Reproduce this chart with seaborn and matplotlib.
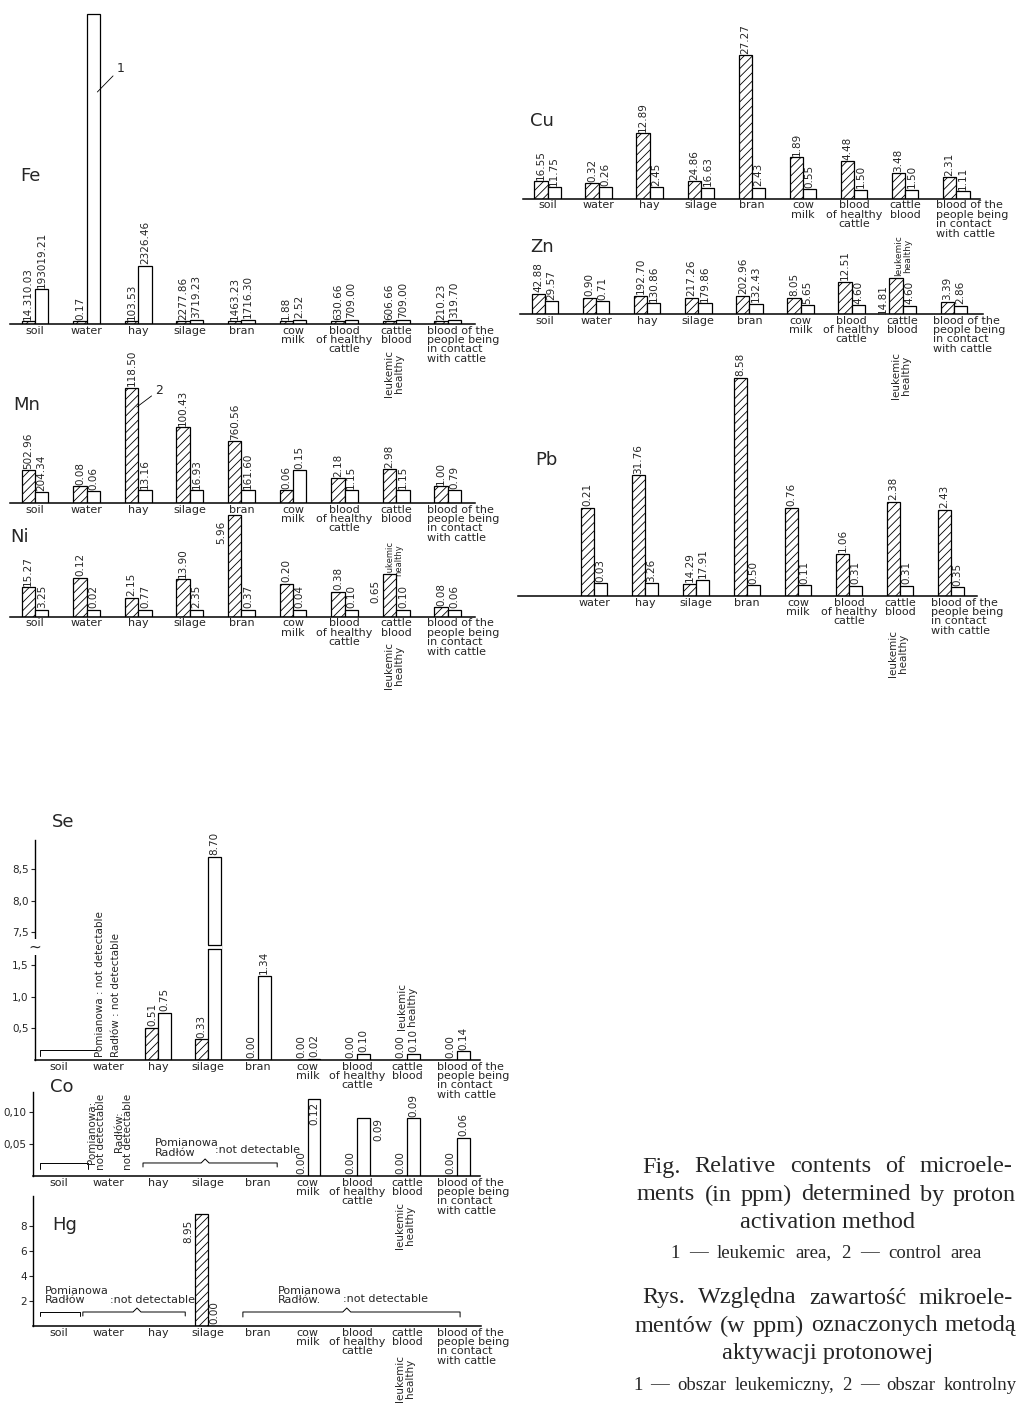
import matplotlib
matplotlib.use("Agg")
import matplotlib.pyplot as plt
from matplotlib.patches import Rectangle
import numpy as np
import pandas as pd
import seaborn as sns

W, H = 1018, 1412
nan = np.nan

categories = ["soil", "water", "hay", "silage", "bran", "cow milk",
              "blood of healthy cattle", "cattle blood", "blood of the people"]
cat_labels = ["soil", "water", "hay", "silage", "bran", "cow\nmilk",
              "blood\nof healthy\ncattle", "cattle\nblood",
              "blood of the\npeople being\nin contact\nwith cattle"]

# Fe, Mn, Ni, Cu, Zn, Pb are not drawn to scale in the original:
# heights below are the drawn heights (px on the sheet), texts are the printed values
fe_leuk = [3, 3, 3, 3, 3, 3, 3, 3, 3]
fe_heal = [35, 310, 58, 4.5, 4.5, 4.5, 4.5, 4.5, 4.5]
fe_leuk_txt = ["14.310.03", "0.17", "103.53", "2277.86", "1463.23", "1.88", "630.66", "606.66", "210.23"]
fe_heal_txt = ["193019.21", "", "2326.46", "3719.23", "1716.30", "2.52", "709.00", "709.00", "319.70"]

mn_leuk = [33, 17, 115, 76, 62, 13, 25, 34, 17]
mn_heal = [11, 12, 13, 13, 13, 33, 13, 13, 13]
mn_leuk_txt = ["502.96", "0.08", "118.50", "100.43", "760.56", "0.06", "2.18", "2.98", "1.00"]
mn_heal_txt = ["204.34", "0.06", "13.16", "16.93", "161.60", "0.15", "1.15", "1.15", "0.79"]

ni_leuk = [30, 39, 19, 38, 102, 33, 25, 43, 10]
ni_heal = [7, 7, 7, 7, 7, 7, 7, 7, 7]
ni_leuk_txt = ["15.27", "0.12", "2.15", "13.90", "5.96", "0.20", "0.38", "0.65", "0.08"]
ni_heal_txt = ["3.25", "0.02", "0.77", "2.35", "0.37", "0.04", "0.10", "0.10", "0.06"]

cu_leuk = [18, 16, 66, 18, 144, 42, 38, 26, 22]
cu_heal = [12, 12, 12, 11, 11, 10, 9, 9, 8]
cu_leuk_txt = ["16.55", "0.32", "12.89", "24.86", "27.27", "1.89", "4.48", "3.48", "2.31"]
cu_heal_txt = ["11.75", "0.26", "2.45", "16.63", "2.43", "0.55", "1.50", "1.50", "1.11"]

zn_leuk = [20, 16, 18, 16, 18, 16, 32, 36, 12]
zn_heal = [13, 13, 11, 11, 10, 9, 9, 8, 8]
zn_leuk_txt = ["42.88", "0.90", "192.70", "217.26", "202.96", "8.05", "12.51", "14.81", "3.39"]
zn_heal_txt = ["29.57", "0.71", "130.86", "179.86", "132.43", "5.65", "4.60", "4.60", "2.86"]

pb_leuk = [nan, 88, 121, 12, 218, 88, 42, 94, 86]
pb_heal = [nan, 13, 13, 16, 11, 11, 10, 10, 9]
pb_leuk_txt = ["", "0.21", "31.76", "14.29", "8.58", "0.76", "1.06", "2.38", "2.43"]
pb_heal_txt = ["", "0.03", "3.26", "17.91", "0.50", "0.11", "0.31", "0.31", "0.35"]

# Se, Co, Hg are drawn to scale (ppm)
se_leuk = [nan, nan, 0.51, 0.33, 0.00, 0.00, 0.00, 0.00, 0.00]
se_heal = [nan, nan, 0.75, 8.70, 1.34, 0.02, 0.10, 0.10, 0.14]
co_leuk = [nan, nan, nan, nan, nan, 0.00, 0.00, 0.00, 0.00]
co_heal = [nan, nan, nan, nan, nan, 0.12, 0.09, 0.09, 0.06]
hg_leuk = [nan, nan, nan, 8.95, nan, nan, nan, nan, nan]
hg_heal = [nan, nan, nan, 0.00, nan, nan, nan, nan, nan]

se_ticks = [0.5, 1.0, 1.5, 7.5, 8.0, 8.5]
co_ticks = [0.05, 0.10]
hg_ticks = [2, 4, 6, 8]

sns.set_style("white")
plt.rcParams["font.family"] = ["DejaVu Sans"]
plt.rcParams["hatch.linewidth"] = 0.6
plt.rcParams["hatch.color"] = "black"

FS = 7.5     # value labels
CFS = 8      # category labels
PT = 0.72    # points per pixel at 100 dpi
HATCH = "////"

fig = plt.figure(figsize=(W / 100, H / 100), dpi=100)
fig.patch.set_facecolor("white")


def fmt(vals):
    return ["" if np.isnan(v) else f"{v:.2f}" for v in vals]


def panel(left, right, base, top, c0, sp, leuk, heal, leuk_txt, heal_txt,
          special=None, yaxis=False):
    ax = fig.add_axes([left / W, 1 - base / H, (right - left) / W, (base - top) / H])
    rows = []
    for i, c in enumerate(categories):
        for area, vals in (("leukemic", leuk), ("healthy", heal)):
            if not np.isnan(vals[i]):
                rows.append({"cat": c, "area": area, "value": vals[i]})
    df = pd.DataFrame(rows)
    sns.barplot(data=df, x="cat", y="value", hue="area", order=categories,
                hue_order=["leukemic", "healthy"], palette=["white", "white"],
                saturation=1, edgecolor="black", linewidth=0.9, width=0.52,
                errorbar=None, legend=False, ax=ax)
    ax.set_facecolor("none")
    ax.set_xlim((left - c0) / sp, (right - c0) / sp)
    ax.set_xticks([])
    ax.set_xlabel("")
    ax.set_ylabel("")
    for s in ("top", "right"):
        ax.spines[s].set_visible(False)
    ax.spines["bottom"].set_linewidth(1.1)
    ax.spines["bottom"].set_color("black")
    if yaxis:
        ax.spines["left"].set_linewidth(1.0)
        ax.spines["left"].set_color("black")
        ax.tick_params(axis="y", direction="out", length=3, width=0.8,
                       labelsize=FS, pad=1.5, left=True)
    else:
        ax.spines["left"].set_visible(False)
        ax.set_yticks([])
    special = special or {}
    for cont, area, txts in zip(ax.containers, ("leukemic", "healthy"), (leuk_txt, heal_txt)):
        for p in cont:
            i = int(round(p.get_x() + p.get_width() / 2))
            if area == "leukemic":
                p.set_hatch(HATCH)
            s = txts[i]
            if not s:
                continue
            x, w, h = p.get_x(), p.get_width(), p.get_height()
            mode = special.get((area, i), "top")
            kw = dict(textcoords="offset points", rotation=90, fontsize=FS,
                      annotation_clip=False)
            if mode == "top":
                ax.annotate(s, (x + w / 2, h), xytext=(0, 1.5 * PT), ha="center", va="bottom", **kw)
            elif mode == "left":
                ax.annotate(s, (x, h), xytext=(-2 * PT, -6 * PT), ha="right", va="top", **kw)
            elif mode == "inside":
                ax.annotate(s, (x + w / 2, h), xytext=(0, -3 * PT), ha="center", va="top", **kw)
            elif mode == "right":
                ax.annotate(s, (x + w, h), xytext=(3 * PT, 0), ha="left", va="top", **kw)
    return ax


def cat_axis(ax, show, legend_px=None, legend_fs=FS):
    for i in show:
        if i == 8:
            ax.annotate(cat_labels[i], (i - 0.4, 0), xytext=(0, -1.5 * PT), textcoords="offset points",
                        ha="left", va="top", fontsize=CFS, linespacing=0.92, annotation_clip=False)
        else:
            ax.annotate(cat_labels[i], (i, 0), xytext=(0, -1.5 * PT), textcoords="offset points",
                        ha="center", va="top", fontsize=CFS, linespacing=0.92, annotation_clip=False)
    if legend_px is not None:
        ax.annotate("leukemic\nhealthy", (7, 0), xytext=(-2 * PT, -legend_px * PT),
                    textcoords="offset points", rotation=90, ha="center", va="top",
                    fontsize=legend_fs, linespacing=0.95, annotation_clip=False)


def title(x, y, s):
    fig.text(x / W, 1 - y / H, s, fontsize=13, ha="left", va="center")


def brace(ax, x0, x1, y, ppu, peak=None, ends=(True, True), tick=6, bump=5):
    xs, ys = [], []
    if ends[0]:
        xs.append(x0); ys.append(y - tick / ppu)
    xs.append(x0); ys.append(y)
    if peak is not None:
        xs += [peak - 0.08, peak, peak + 0.08]
        ys += [y, y + bump / ppu, y]
    xs.append(x1); ys.append(y)
    if ends[1]:
        xs.append(x1); ys.append(y - tick / ppu)
    ax.plot(xs, ys, color="black", lw=0.7, clip_on=False)


allc = list(range(9))

# ---- Fe
ax = panel(10, 475, 324, 5, 35, 51.6, fe_leuk, fe_heal, fe_leuk_txt, fe_heal_txt)
ax.set_ylim(0, 319)
cat_axis(ax, allc, 26)
title(20, 176, "Fe")
pw = ax.containers[1][1]
ax.annotate("1", (pw.get_x() + 0.8 * pw.get_width(), 232), xytext=(19 * PT, 17 * PT),
            textcoords="offset points", fontsize=9, ha="left", va="bottom",
            arrowprops=dict(arrowstyle="-", lw=0.6, color="black", shrinkA=0, shrinkB=0))

# ---- Mn
ax = panel(10, 475, 503, 370, 35, 51.6, mn_leuk, mn_heal, mn_leuk_txt, mn_heal_txt)
ax.set_ylim(0, 133)
cat_axis(ax, allc, 38, legend_fs=6)
title(13, 405, "Mn")
ph = ax.containers[0][2]
ax.annotate("2", (ph.get_x() + 0.9 * ph.get_width(), 96), xytext=(18 * PT, 10 * PT),
            textcoords="offset points", fontsize=9, ha="left", va="bottom",
            arrowprops=dict(arrowstyle="-", lw=0.6, color="black", shrinkA=0, shrinkB=0))

# ---- Ni
ax = panel(10, 475, 617, 505, 35, 51.6, ni_leuk, ni_heal, ni_leuk_txt, ni_heal_txt,
           special={("leukemic", 4): "left", ("leukemic", 7): "left"})
ax.set_ylim(0, 112)
cat_axis(ax, allc, 25)
title(10, 537, "Ni")

# ---- Cu
ax = panel(523, 980, 199, 50, 547.5, 51.1, cu_leuk, cu_heal, cu_leuk_txt, cu_heal_txt)
ax.set_ylim(0, 149)
cat_axis(ax, allc, 36, legend_fs=6.5)
title(530, 121, "Cu")

# ---- Zn
ax = panel(520, 983, 314, 270, 545, 51.1, zn_leuk, zn_heal, zn_leuk_txt, zn_heal_txt,
           special={("leukemic", 7): "left"})
ax.set_ylim(0, 44)
cat_axis(ax, allc, 38)
title(530, 247, "Zn")

# ---- Pb
ax = panel(518, 977, 596, 370, 543, 51.0, pb_leuk, pb_heal, pb_leuk_txt, pb_heal_txt)
ax.set_ylim(0, 226)
cat_axis(ax, range(1, 9), 34)
title(535, 460, "Pb")


# ---- Se (broken axis)
def se_fwd(v):
    return np.interp(v, [-100, 1.76, 7.30, 100], [-100, 1.76, 1.83, 94.53])


def se_inv(u):
    return np.interp(u, [-100, 1.76, 1.83, 94.53], [-100, 1.76, 7.30, 100])


ax = panel(35, 480, 1060, 840, 59, 49.7, se_leuk, se_heal, fmt(se_leuk), fmt(se_heal), yaxis=True)
ax.set_yscale("function", functions=(se_fwd, se_inv))
ax.set_ylim(0, 8.962)
ax.set_yticks(se_ticks)
ax.set_yticklabels([f"{t:.1f}".replace(".", ",") for t in se_ticks])
ax.yaxis.set_minor_locator(matplotlib.ticker.NullLocator())
pb8 = ax.containers[1][1]
bx, bw = pb8.get_x(), pb8.get_width()
ax.add_patch(Rectangle((bx - 0.02, 1.76), bw + 0.04, 7.30 - 1.76, facecolor="white",
                       edgecolor="none", zorder=5))
ax.plot([bx, bx + bw], [1.76, 1.76], color="black", lw=0.9, zorder=6)
ax.plot([bx, bx + bw], [7.30, 7.30], color="black", lw=0.9, zorder=6)
ax.text(-0.483, 4.5, "~", fontsize=11, ha="center", va="center",
        bbox=dict(facecolor="white", edgecolor="none", pad=0.5), clip_on=False)
cat_axis(ax, allc, None)
ax.annotate("leukemic\nhealthy", (7, 0), xytext=(0, 30 * PT), textcoords="offset points",
            rotation=90, ha="center", va="bottom", fontsize=FS, linespacing=0.95)
brace(ax, -0.38, 0.76, 10 / 63, 63, ends=(True, False))
ax.annotate("Pomianowa : not detectable", (0.83, 0), xytext=(0, 3 * PT), textcoords="offset points",
            rotation=90, ha="center", va="bottom", fontsize=FS)
ax.annotate("Radłów : not detectable", (1.15, 0), xytext=(0, 3 * PT), textcoords="offset points",
            rotation=90, ha="center", va="bottom", fontsize=FS)
title(52, 822, "Se")

# ---- Co
ax = panel(33, 480, 1176, 1092, 59, 49.7, co_leuk, co_heal, fmt(co_leuk), fmt(co_heal),
           special={("healthy", 5): "inside", ("healthy", 6): "right"}, yaxis=True)
ax.set_ylim(0, 0.131)
ax.set_yticks(co_ticks)
ax.set_yticklabels([f"{t:.2f}".replace(".", ",") for t in co_ticks])
cat_axis(ax, allc, 26)
brace(ax, -0.38, 0.58, 13 / 640, 640, tick=6)
ax.annotate("Pomianowa:\nnot detectable", (0.76, 0), xytext=(0, 6 * PT), textcoords="offset points",
            rotation=90, ha="center", va="bottom", fontsize=FS, linespacing=0.9)
ax.annotate("Radłów:\nnot detectable", (1.29, 0), xytext=(0, 6 * PT), textcoords="offset points",
            rotation=90, ha="center", va="bottom", fontsize=FS, linespacing=0.9)
brace(ax, 1.69, 4.39, 13 / 640, 640, peak=2.94, tick=4, bump=4)
ax.text(1.93, 0.044, "Pomianowa\nRadłów", fontsize=CFS, ha="left", va="center", linespacing=0.95)
ax.text(3.14, 0.041, ":not detectable", fontsize=CFS, ha="left", va="center")
title(50, 1087, "Co")

# ---- Hg
ax = panel(33, 481, 1326, 1196, 59, 49.7, hg_leuk, hg_heal, fmt(hg_leuk), fmt(hg_heal),
           special={("leukemic", 3): "left"}, yaxis=True)
ax.set_ylim(0, 10.4)
ax.set_yticks(hg_ticks)
ax.set_yticklabels([str(t) for t in hg_ticks])
cat_axis(ax, allc, 29)
brace(ax, -0.38, 0.42, 14 / 12.5, 12.5, tick=4)
brace(ax, 0.48, 2.54, 14 / 12.5, 12.5, peak=1.57, tick=4, bump=4)
brace(ax, 3.70, 8.07, 14 / 12.5, 12.5, peak=5.79, tick=5, bump=4)
ax.text(-0.28, 2.45, "Pomianowa\nRadłów", fontsize=CFS, ha="left", va="center", linespacing=0.95)
ax.text(1.03, 2.1, ":not detectable", fontsize=CFS, ha="left", va="center")
ax.text(4.41, 2.45, "Pomianowa\nRadłów.", fontsize=CFS, ha="left", va="center", linespacing=0.95)
ax.text(5.71, 2.2, ":not detectable", fontsize=CFS, ha="left", va="center")
title(52, 1225, "Hg")

# ---- caption
renderer = fig.canvas.get_renderer()
SERIF = ["Liberation Serif", "DejaVu Serif"]


def justified(s, x0, x1, y, size):
    words = s.split()
    arts = [fig.text(0, 1 - y / H, w, fontsize=size, family=SERIF, va="center") for w in words]
    ws = [a.get_window_extent(renderer).width for a in arts]
    gap = (x1 - x0 - sum(ws)) / (len(words) - 1)
    x = x0
    for a, w in zip(arts, ws):
        a.set_x(x / W)
        x += w + gap


def centered(s, xc, y, size):
    fig.text(xc / W, 1 - y / H, s, fontsize=size, family=SERIF, ha="center", va="center")


justified("Fig. Relative contents of microele-", 642, 1012, 1167, 17.5)
justified("ments (in ppm) determined by proton", 637, 1016, 1195, 17.5)
centered("activation method", 828, 1222, 17.5)
justified("1 — leukemic area, 2 — control area", 670, 982, 1253, 13.5)
justified("Rys. Względna zawartość mikroele-", 642, 1013, 1298, 17.5)
justified("mentów (w ppm) oznaczonych metodą", 635, 1016, 1326, 17.5)
centered("aktywacji protonowej", 828, 1353, 17.5)
justified("1 — obszar leukemiczny, 2 — obszar kontrolny", 633, 1017, 1385, 13.5)

fig.savefig("out.png", dpi=100, facecolor="white")
